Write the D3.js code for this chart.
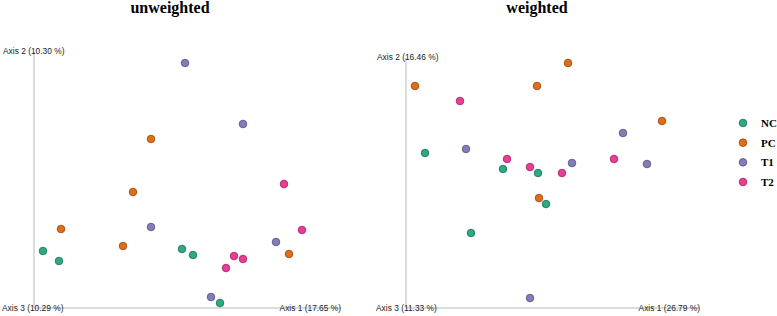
<!DOCTYPE html>
<html>
<head>
<meta charset="utf-8">
<script src="https://cdn.jsdelivr.net/npm/d3@7"></script>
<style>
  body { margin: 0; background: #fff; }
  svg { display: block; }
</style>
</head>
<body>
<svg width="777" height="316"></svg>
<script>
// группы и цвета
const groups = ["NC", "PC", "T1", "T2"];
const colors = ["#1b9e77", "#d95f02", "#7570b3", "#e7298a"];

// unweighted: [Axis 1, Axis 2] в условных единицах
const unwNC = [[9, 57], [25, 47], [148, 59], [159, 53], [186, 5]];
const unwPC = [[117, 169], [99, 116], [27, 79], [89, 62], [255, 54]];
const unwT1 = [[151, 245], [209, 184], [117, 81], [242, 66], [177, 11]];
const unwT2 = [[250, 124], [268, 78], [200, 52], [209, 49], [192, 40]];

// weighted
const wNC = [[19, 155], [97, 139], [132, 135], [140, 104], [65, 75]];
const wPC = [[162, 245], [9, 222], [131, 222], [256, 187], [133, 110]];
const wT1 = [[217, 175], [60, 159], [166, 145], [241, 144], [124, 10]];
const wT2 = [[54, 207], [101, 149], [208, 149], [124, 141], [156, 135]];

const unwAxes = ["Axis 1 (17.65 %)", "Axis 2 (10.30 %)", "Axis 3 (10.29 %)"];
const wAxes = ["Axis 1 (26.79 %)", "Axis 2 (16.46 %)", "Axis 3 (11.33 %)"];

const svg = d3.select("svg");
const color = d3.scaleOrdinal().domain(groups).range(colors);

function toPoints(arrs) {
    let pts = [];
    arrs.forEach((arr, i) => {
        arr.forEach(d => pts.push({ group: groups[i], x: d[0], y: d[1] }));
    });
    return pts;
}

function drawPanel(title, data, axes, area) {
    const g = svg.append("g");

    const scX = d3.scaleLinear().domain([0, area.xMax]).range([area.left, area.left + area.width]);
    const scY = d3.scaleLinear().domain([0, area.yMax]).range([area.bottom, area.top]);

    g.append("text")
        .attr("x", area.titleX)
        .attr("y", 13)
        .attr("text-anchor", "middle")
        .style("font-family", "'Liberation Serif', 'Times New Roman', serif")
        .style("font-weight", "bold")
        .style("font-size", "16px")
        .text(title);

    // оси
    g.append("line")
        .attr("x1", scX(0)).attr("x2", scX(0))
        .attr("y1", scY(area.yMax)).attr("y2", scY(0))
        .style("stroke", "#d0d0d0").style("stroke-width", 1.5);
    g.append("line")
        .attr("x1", scX(0)).attr("x2", scX(area.xMax))
        .attr("y1", scY(0)).attr("y2", scY(0))
        .style("stroke", "#d0d0d0").style("stroke-width", 1.5);

    const lab = (txt, x, y, anchor) => g.append("text")
        .attr("x", x).attr("y", y)
        .attr("text-anchor", anchor)
        .attr("dy", "0.35em")
        .style("font-family", "'Liberation Sans', Arial, sans-serif")
        .style("font-size", "8.4px")
        .style("fill", "#222")
        .text(txt);

    lab(axes[1], area.labelLeft, scY(area.yMax) - 1, "start");
    lab(axes[2], area.labelLeft - 1, scY(0), "start");
    lab(axes[0], scX(area.xMax), scY(0), "end");

    g.selectAll(".dot")
        .data(data)
        .enter()
        .append("circle")
        .attr("class", "dot")
        .attr("cx", d => scX(d.x))
        .attr("cy", d => scY(d.y))
        .attr("r", 3.8)
        .style("fill", d => color(d.group))
        .style("fill-opacity", 0.9)
        .style("stroke", d => d3.color(color(d.group)).darker(1))
        .style("stroke-width", 0.8);
}

drawPanel("unweighted", toPoints([unwNC, unwPC, unwT1, unwT2]), unwAxes,
    { left: 34, width: 307, bottom: 308, top: 52, xMax: 307, yMax: 256, titleX: 170, labelLeft: 3 });

drawPanel("weighted", toPoints([wNC, wPC, wT1, wT2]), wAxes,
    { left: 406, width: 294, bottom: 308, top: 58, xMax: 294, yMax: 250, titleX: 537, labelLeft: 377 });

// легенда
const legend = svg.append("g");
const legY = d3.scalePoint().domain(groups).range([123, 182]);

legend.selectAll("circle")
    .data(groups)
    .enter()
    .append("circle")
    .attr("cx", 743)
    .attr("cy", d => legY(d))
    .attr("r", 3.8)
    .style("fill", d => color(d))
    .style("fill-opacity", 0.9)
    .style("stroke", d => d3.color(color(d)).darker(1))
    .style("stroke-width", 0.8);

legend.selectAll("text")
    .data(groups)
    .enter()
    .append("text")
    .attr("x", 761)
    .attr("y", d => legY(d))
    .attr("dy", "0.35em")
    .style("font-family", "'Liberation Serif', 'Times New Roman', serif")
    .style("font-weight", "bold")
    .style("font-size", "11px")
    .text(d => d);
</script>
</body>
</html>
